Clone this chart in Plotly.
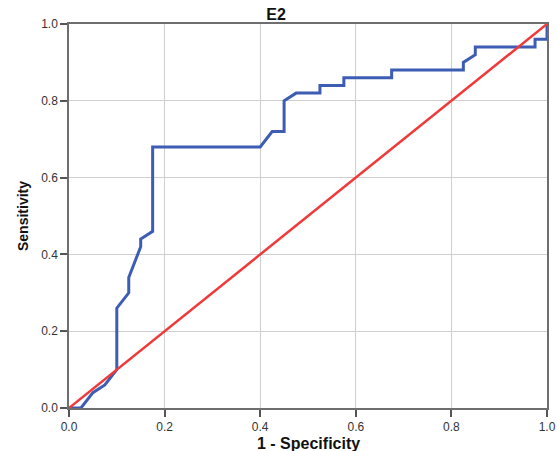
import plotly.graph_objects as go

# ROC curve for E2 (1 - Specificity, Sensitivity)
fpr = [0.0, 0.025, 0.05, 0.075, 0.1, 0.1, 0.125, 0.125, 0.15, 0.15, 0.175, 0.175,
       0.4, 0.425, 0.45, 0.45, 0.475, 0.525, 0.525, 0.575, 0.575, 0.675, 0.675,
       0.825, 0.825, 0.85, 0.85, 0.975, 0.975, 1.0, 1.0]
tpr = [0.0, 0.0, 0.04, 0.06, 0.10, 0.26, 0.30, 0.34, 0.42, 0.44, 0.46, 0.68,
       0.68, 0.72, 0.72, 0.80, 0.82, 0.82, 0.84, 0.84, 0.86, 0.86, 0.88,
       0.88, 0.90, 0.92, 0.94, 0.94, 0.96, 0.96, 1.0]
ref_x = [0.0, 1.0]
ref_y = [0.0, 1.0]
tick_vals = [0.0, 0.2, 0.4, 0.6, 0.8, 1.0]
tick_text = ["0.0", "0.2", "0.4", "0.6", "0.8", "1.0"]

fig = go.Figure()
fig.add_trace(go.Scatter(x=fpr, y=tpr, mode="lines",
                         line=dict(color="#3d5db5", width=3), showlegend=False))
fig.add_trace(go.Scatter(x=ref_x, y=ref_y, mode="lines",
                         line=dict(color="#f03a3a", width=2.5), showlegend=False))

axis_common = dict(
    range=[0, 1], tickvals=tick_vals, ticktext=tick_text,
    showgrid=True, gridcolor="#cfcfcf", gridwidth=1,
    showline=True, linecolor="#6e6e6e", linewidth=1.5, mirror=True,
    ticks="outside", ticklen=7, tickcolor="#555555", tickwidth=1.5,
    tickfont=dict(family="Liberation Sans, Arial, sans-serif", size=12, color="#333333"),
    zeroline=False, automargin=False,
)

fig.update_layout(
    width=557, height=451,
    margin=dict(l=69, r=10, t=24, b=43),
    paper_bgcolor="white", plot_bgcolor="white",
    title=dict(text="<b>E2</b>", x=276/557, xanchor="center", xref="container",
               y=1-14/451, yanchor="middle", yref="container",
               font=dict(family="Liberation Sans, Arial, sans-serif", size=16, color="#111111")),
    xaxis=dict(**axis_common),
    yaxis=dict(**axis_common),
    annotations=[
        dict(text="<b>1 - Specificity</b>", xref="paper", yref="paper",
             x=0.5, y=-35/384, xanchor="center", yanchor="middle", showarrow=False,
             font=dict(family="Liberation Sans, Arial, sans-serif", size=16, color="#111111")),
        dict(text="<b>Sensitivity</b>", xref="paper", yref="paper",
             x=-46/478, y=0.5, xanchor="center", yanchor="middle", showarrow=False,
             textangle=-90,
             font=dict(family="Liberation Sans, Arial, sans-serif", size=14, color="#111111")),
    ],
)

post = ("document.body.style.margin='0';document.body.style.overflow='hidden';")

fig.write_html("out.html", config={"displayModeBar": False}, post_script=post)
